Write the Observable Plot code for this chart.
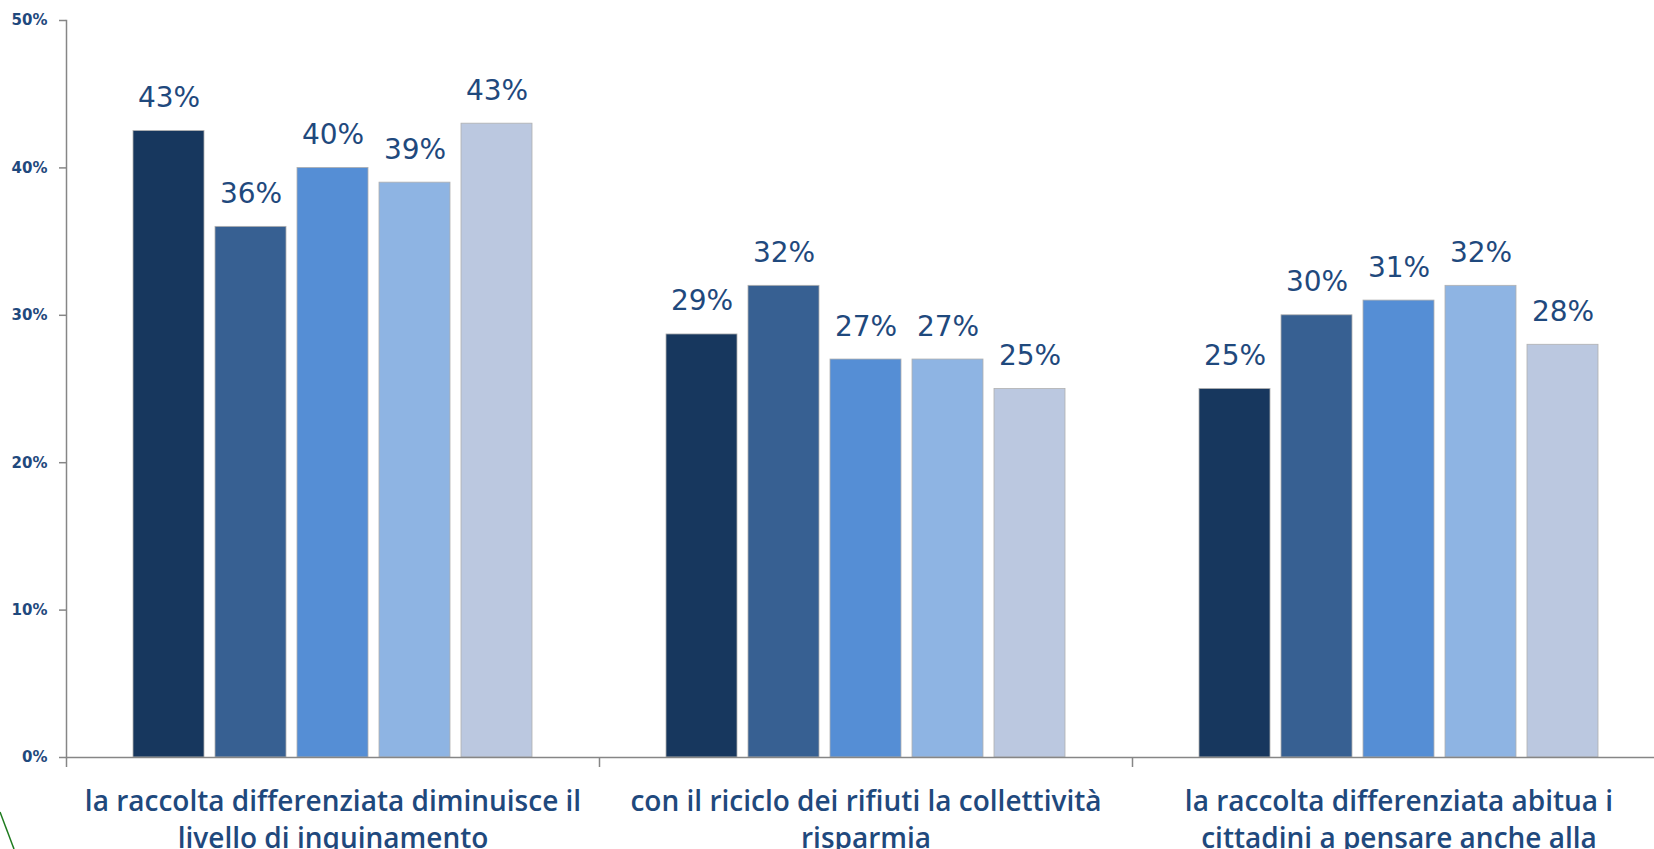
<!DOCTYPE html>
<html>
<head>
<meta charset="utf-8">
<script src="https://cdn.jsdelivr.net/npm/d3@7"></script>
<script src="https://cdn.jsdelivr.net/npm/@observablehq/plot@0.6"></script>
<style>
  html, body { margin: 0; padding: 0; background: #ffffff; }
  #wrap { position: relative; width: 1654px; height: 849px; overflow: hidden; background: #ffffff; }
  #deco { position: absolute; left: 0; top: 0; pointer-events: none; }
</style>
</head>
<body>
<div id="wrap"></div>
<script>
// ---- data ----
const categories = [
  "la raccolta differenziata diminuisce il\nlivello di inquinamento",
  "con il riciclo dei rifiuti la collettività\nrisparmia",
  "la raccolta differenziata abitua i\ncittadini a pensare anche alla"
];
const series = ["Serie 1", "Serie 2", "Serie 3", "Serie 4", "Serie 5"];
const valuesCat1 = [42.5, 36, 40, 39, 43];
const valuesCat2 = [28.7, 32, 27, 27, 25];
const valuesCat3 = [25, 30, 31, 32, 28];
const yTicks = [0, 10, 20, 30, 40, 50];
const colors = ["#17375E", "#376092", "#558ED5", "#8EB4E3", "#BBC8E0"];

// table built from the arrays
const allValues = [valuesCat1, valuesCat2, valuesCat3];
const data = [];
categories.forEach((c, ci) => {
  series.forEach((s, si) => {
    data.push({category: c, series: s, value: allValues[ci][si]});
  });
});

const axisGray = "#868686";
const textBlue = "#1F497D";

const chart = Plot.plot({
  width: 1665,
  height: 849,
  marginLeft: 66,
  marginRight: 0,
  marginTop: 20,
  marginBottom: 92,
  style: {background: "#ffffff", maxWidth: "none", overflow: "visible", fontFamily: "'DejaVu Sans', sans-serif"},
  fx: {domain: categories, padding: 0, label: null, axis: null},
  x: {domain: series, paddingInner: 0.14, paddingOuter: 0.8, axis: null},
  y: {domain: [0, 50], label: null, axis: null},
  color: {domain: series, range: colors},
  marks: [
    Plot.barY(data, {
      fx: "category", x: "series", y: "value", fill: "series",
      stroke: "#b0b0b0", strokeWidth: 0.8
    }),
    Plot.text(data, {
      fx: "category", x: "series", y: "value",
      text: d => Math.round(d.value) + "%",
      lineAnchor: "bottom", dy: -24,
      fontSize: 28, fill: textBlue,
      fontFamily: "'DejaVu Sans', sans-serif"
    }),
    Plot.ruleY([0], {stroke: axisGray, strokeWidth: 1.5}),
    Plot.frame({anchor: "left", facetAnchor: "left", stroke: axisGray, strokeWidth: 1.5}),
    Plot.axisY({
      ticks: yTicks, tickFormat: d => d + "%", tickSize: 7, tickPadding: 12,
      stroke: axisGray, fill: textBlue, fontSize: 15, fontWeight: "bold",
      fontFamily: "'DejaVu Sans', sans-serif", strokeWidth: 1.5
    }),
    Plot.axisFx({
      anchor: "bottom",
      tickSize: 10, tickFormat: () => "", dx: -266.5,
      stroke: axisGray, strokeWidth: 1.5
    }),
    Plot.axisFx({
      anchor: "bottom",
      tickSize: 0, tickPadding: 27, lineHeight: 1.33,
      fill: textBlue, fontSize: 28, fontWeight: 600,
      fontFamily: "'Open Sans', sans-serif"
    })
  ]
});

const wrap = document.getElementById("wrap");
wrap.appendChild(chart);

// decorative green stroke at bottom-left corner of the original slide
const ns = "http://www.w3.org/2000/svg";
const deco = document.createElementNS(ns, "svg");
deco.setAttribute("id", "deco");
deco.setAttribute("width", "1654");
deco.setAttribute("height", "849");
const ln = document.createElementNS(ns, "line");
ln.setAttribute("x1", "0"); ln.setAttribute("y1", "812");
ln.setAttribute("x2", "14"); ln.setAttribute("y2", "849");
ln.setAttribute("stroke", "#1E7B1E"); ln.setAttribute("stroke-width", "1.5");
deco.appendChild(ln);
wrap.appendChild(deco);
</script>
</body>
</html>
